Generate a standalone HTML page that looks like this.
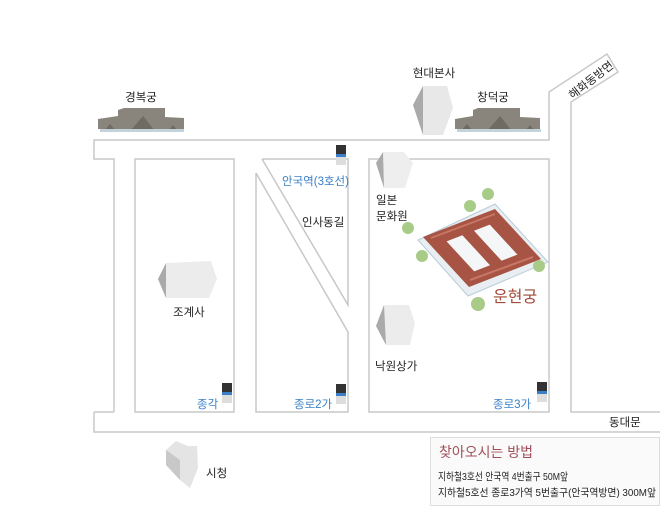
<!DOCTYPE html>
<html><head><meta charset="utf-8"><style>
html,body{margin:0;padding:0;background:#fff;}
svg{display:block;}
text{font-family:"Liberation Sans","Noto Sans CJK KR","NanumGothic",sans-serif;}
</style></head><body>
<svg width="670" height="512" viewBox="0 0 670 512" xmlns="http://www.w3.org/2000/svg">
<rect width="670" height="512" fill="#fff"/>
<g fill="none" stroke="#c8c8c8" stroke-width="1.5">
<polyline points="114,412 114,159 94,159 94,140 549,140 549,92 607,54 618,72 571,102 571,412 660,412"/>
<polyline points="94,412 94,432 660,432"/>
<polyline points="94,412 114,412"/>
<polygon points="135,159 234,159 234,412 135,412"/>
<polyline points="262,159 348,159 348,305 262,159"/>
<polyline points="256,173 348,332 348,412 256,412 256,173"/>
<polygon points="369,159 549,159 549,412 369,412"/>
</g>
<!-- palaces -->
<g>
<polygon points="98,119 118,116 118,110 124,108 165,108 165,117 184,118 184,129 98,129" fill="#8a857c"/>
<polygon points="130,131 143,116 155,131" fill="#6f6a62"/>
<polygon points="104,131 110,124 116,131" fill="#6f6a62"/>
<polygon points="168,131 173,125 178,131" fill="#6f6a62"/>
<rect x="100" y="129" width="84" height="3" fill="#c4d2dc"/>
<polygon points="455,119 473,116 473,110 478,108 520,108 520,117 540,118 540,129 455,129" fill="#8a857c"/>
<polygon points="487,131 500,116 512,131" fill="#6f6a62"/>
<polygon points="461,131 467,124 473,131" fill="#6f6a62"/>
<polygon points="525,131 530,125 535,131" fill="#6f6a62"/>
<rect x="457" y="129" width="84" height="3" fill="#c4d2dc"/>
</g>
<!-- buildings -->
<g>
<polygon points="413,105 423,86 447,86 453,108 443,135 423,135" fill="#e8e8e8"/>
<polygon points="413,105 423,86 423,135" fill="#aaa"/>
<polygon points="376,163 383,152 404,152 413,163 405,188 384,188" fill="#eee"/>
<polygon points="376,163 383,152 384,188" fill="#aaa"/>
<polygon points="158,279 166,263 211,261 217,279 209,298 166,298" fill="#ececec"/>
<polygon points="158,279 166,263 166,298" fill="#aaa"/>
<polygon points="376,326 384,305 409,305 415,323 410,345 386,345" fill="#ececec"/>
<polygon points="376,326 384,305 386,345" fill="#aaa"/>
<polygon points="166,450 176,441 188,446 197,446 198,468 190,488 180,480 166,465" fill="#e4e4e4"/>
<polygon points="166,450 180,460 180,480 166,465" fill="#c8c8c8"/>
</g>
<!-- unhyeongung -->
<polygon points="418,240 495,204 548,262 468,296" fill="#e8eef2" stroke="#b8ccd8"/>
<polygon points="423,237 495,209 541,259 469,287" fill="#a85444"/>
<polygon points="446.6,241.4 462.4,235.2 490,265.2 474.2,271.4" fill="#f4f6f8"/>
<polygon points="474,230.8 489.8,224.6 517.4,254.6 501.6,260.8" fill="#f4f6f8"/>
<g stroke="#c87666" stroke-width="2" fill="none">
<line x1="431" y1="238" x2="495" y2="214"/>
<line x1="470" y1="280" x2="533" y2="257"/>
</g>
<g fill="#a8cc88">
<circle cx="488" cy="194" r="6"/><circle cx="470" cy="206" r="6"/><circle cx="408" cy="228" r="6"/>
<circle cx="422" cy="256" r="6"/><circle cx="478" cy="304" r="7"/><circle cx="539" cy="266" r="6"/>
</g>
<!-- subway icons -->
<g>
<rect x="336" y="145" width="10" height="9" fill="#333"/><rect x="336" y="154" width="10" height="3" fill="#3a7fc8"/><rect x="336" y="157" width="10" height="8" fill="#ddd"/>
<rect x="222" y="383" width="10" height="9" fill="#333"/><rect x="222" y="392" width="10" height="3" fill="#3a7fc8"/><rect x="222" y="395" width="10" height="8" fill="#ddd"/>
<rect x="336" y="384" width="10" height="9" fill="#333"/><rect x="336" y="393" width="10" height="3" fill="#3a7fc8"/><rect x="336" y="396" width="10" height="8" fill="#ddd"/>
<rect x="537" y="382" width="10" height="9" fill="#333"/><rect x="537" y="391" width="10" height="3" fill="#3a7fc8"/><rect x="537" y="394" width="10" height="8" fill="#ddd"/>
</g>
<g font-size="11.5" fill="#222">
<text x="141" y="101" text-anchor="middle">경복궁</text>
<text x="434" y="77" text-anchor="middle">현대본사</text>
<text x="493" y="101" text-anchor="middle">창덕궁</text>
<text x="591" y="84" text-anchor="middle" transform="rotate(-38 591 80)">해화동방면</text>
<text x="302" y="226">인사동길</text>
<text x="376" y="204">일본</text>
<text x="376" y="220">문화원</text>
<text x="173" y="316">조계사</text>
<text x="375" y="370">낙원상가</text>
<text x="609" y="426">동대문</text>
<text x="206" y="477">시청</text>
</g>
<g font-size="11.5" fill="#3a7fc8">
<text x="282" y="185">안국역(3호선)</text>
<text x="197" y="408">종각</text>
<text x="294" y="408">종로2가</text>
<text x="493" y="408">종로3가</text>
</g>
<text x="493" y="302" font-size="16" fill="#a04a3a">운현궁</text>
<rect x="430.5" y="437.5" width="229" height="68" fill="#fafafa" stroke="#ddd"/>
<text x="439" y="457" font-size="14" fill="#a0505a">찾아오시는 방법</text>
<text x="438" y="480" font-size="10.5" fill="#222" textLength="130" lengthAdjust="spacingAndGlyphs">지하철3호선 안국역 4번출구 50M앞</text>
<text x="438" y="496" font-size="10.5" fill="#222" textLength="218" lengthAdjust="spacingAndGlyphs">지하철5호선 종로3가역 5번출구(안국역방면) 300M앞</text>
</svg>
</body></html>
